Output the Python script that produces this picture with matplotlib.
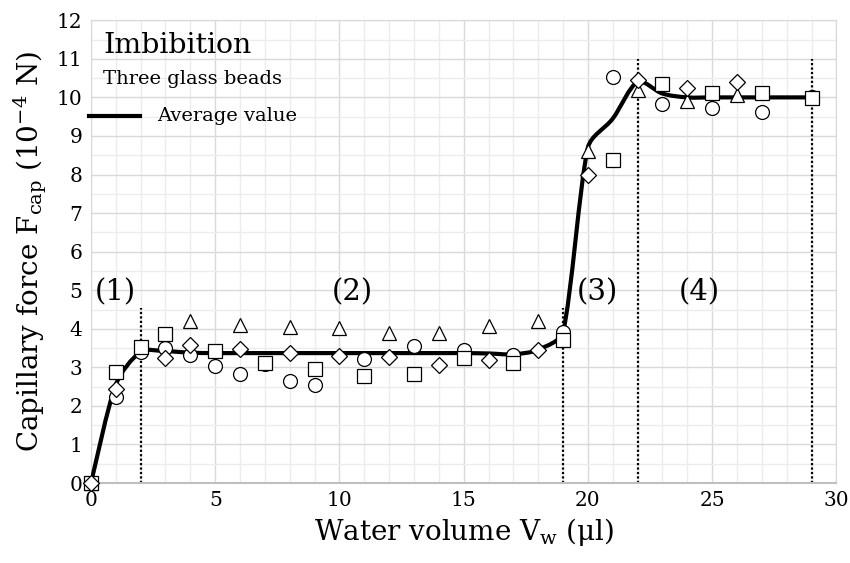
import numpy as np
import matplotlib
matplotlib.use("Agg")
import matplotlib.pyplot as plt
from matplotlib.path import Path
from matplotlib.patches import PathPatch
from matplotlib.ticker import MultipleLocator

plt.rcParams["font.family"] = ["DejaVu Serif"]
plt.rcParams["mathtext.default"] = "regular"

# -------------------------
# Data
# -------------------------
nan = np.nan
volume = list(range(30))

circles = [0, 2.24, 3.40, 3.51, 3.33, 3.03, 2.82, 3.08, 2.65, 2.55,
           nan, 3.21, nan, 3.55, nan, 3.46, nan, 3.32, nan, 3.92,
           nan, 10.54, nan, 9.84, nan, 9.72, nan, 9.62, nan, 10.0]
squares = [0, 2.88, 3.52, 3.86, nan, 3.43, nan, 3.12, nan, 2.97,
           nan, 2.78, nan, 2.84, nan, 3.23, nan, 3.12, nan, 3.72,
           nan, 8.37, nan, 10.34, nan, 10.12, nan, 10.12, nan, 9.98]
triangles = [0, nan, nan, nan, 4.19, nan, 4.09, nan, 4.05, nan,
             4.01, nan, 3.89, nan, 3.89, nan, 4.08, nan, 4.21, nan,
             8.62, nan, 10.18, nan, 9.90, nan, 10.07, nan, nan, 10.0]
diamonds = [0, 2.45, nan, 3.25, 3.57, nan, 3.47, nan, 3.38, nan,
            3.30, nan, 3.26, nan, 3.06, nan, 3.20, nan, 3.46, nan,
            8.00, nan, 10.44, nan, 10.24, nan, 10.41, nan, nan, nan]
average = [0, 2.55, 3.40, 3.42, 3.38, 3.37, 3.37, 3.37, 3.37, 3.37,
           3.37, 3.37, 3.37, 3.37, 3.37, 3.37, 3.36, 3.34, 3.46, 3.92,
           8.70, 9.45, 10.40, 10.10, 10.00, 10.00, 10.00, 10.00, 10.00, 10.00]

stage_bounds = [2, 19, 22, 29]
stage_tops = [4.55, 4.55, 11.0, 11.0]
stage_labels = ["(1)", "(2)", "(3)", "(4)"]
stage_label_x = [1.0, 10.5, 20.4, 24.5]


def smooth_path(xs, ys, sx, sy):
    # smoothed line: cubic Bezier (Catmull-Rom), arms shortened next to
    # much longer segments so the curve does not overshoot
    pts = np.column_stack([xs, ys]).astype(float)
    scale = np.array([sx, sy])
    n = len(pts)

    def dist(a, b):
        return np.hypot(*((a - b) * scale))

    verts = [pts[0]]
    codes = [Path.MOVETO]
    for i in range(n - 1):
        p0 = pts[max(i - 1, 0)]
        p1 = pts[i]
        p2 = pts[i + 1]
        p3 = pts[min(i + 2, n - 1)]
        d01, d12, d23 = dist(p0, p1), dist(p1, p2), dist(p2, p3)
        f1 = min(1 / 6, d12 / (d01 + d12) / 3) if d01 + d12 > 0 else 0
        f2 = min(1 / 6, d12 / (d12 + d23) / 3) if d12 + d23 > 0 else 0
        c1 = p1 + (p2 - p0) * f1
        c2 = p2 - (p3 - p1) * f2
        verts += [c1, c2, p2]
        codes += [Path.CURVE4] * 3
    return Path(verts, codes)


fig = plt.figure(figsize=(8.5, 5.63), dpi=100)
ax = fig.add_axes([0.107, 0.142, 0.877, 0.822])

ax.set_xlim(0, 30)
ax.set_ylim(0, 12)
ax.xaxis.set_major_locator(MultipleLocator(5))
ax.xaxis.set_minor_locator(MultipleLocator(1))
ax.yaxis.set_major_locator(MultipleLocator(1))
ax.yaxis.set_minor_locator(MultipleLocator(0.5))
ax.grid(True, which="major", color="#d9d9d9", linewidth=1.0, zorder=0)
ax.grid(True, which="minor", color="#ececec", linewidth=1.0, zorder=0)
ax.set_axisbelow(True)
ax.tick_params(which="both", length=0, labelsize=14.5, pad=6)
for side in ["left", "right", "top"]:
    ax.spines[side].set_color("#d9d9d9")
ax.spines["bottom"].set_color("#bfbfbf")
ax.spines["bottom"].set_linewidth(1.5)

# stage boundaries
for xb, top in zip(stage_bounds, stage_tops):
    ax.plot([xb, xb], [0, top], color="black", linestyle=(0, (1, 1)),
            linewidth=1.6, zorder=2)
for lab, xl in zip(stage_labels, stage_label_x):
    ax.text(xl, 4.95, lab, fontsize=21, ha="center", va="center")

# average line (pixel scale per data unit for the smoothing)
bbox = ax.get_window_extent()
px_x = bbox.width / 30
px_y = bbox.height / 12
patch = PathPatch(smooth_path(volume, average, px_x, px_y), facecolor="none",
                  edgecolor="black", linewidth=3, zorder=3,
                  capstyle="round", joinstyle="round")
ax.add_patch(patch)

# measurements
mk = dict(linestyle="none", markerfacecolor="white", markeredgecolor="black",
          markeredgewidth=0.9, zorder=4, clip_on=False)
ax.plot(volume, circles, marker="o", markersize=10, **mk)
ax.plot(volume, triangles, marker="^", markersize=10, **mk)
ax.plot(volume, squares, marker="s", markersize=9.5, **mk)
ax.plot(volume, diamonds, marker="D", markersize=8, **mk)

# annotations / legend
ax.text(0.016, 0.945, "Imbibition", transform=ax.transAxes, fontsize=20.5,
        va="center", ha="left")
ax.text(0.016, 0.873, "Three glass beads", transform=ax.transAxes,
        fontsize=14, va="center", ha="left")
ax.plot([-0.002, 0.066], [0.793, 0.793], transform=ax.transAxes,
        color="black", linewidth=3, clip_on=False, zorder=5)
ax.text(0.089, 0.793, "Average value", transform=ax.transAxes,
        fontsize=14, va="center", ha="left")

ax.set_xlabel("Water volume V$_w$ (\u03bcl)", fontsize=20, labelpad=4)
ax.set_ylabel("Capillary force F$_{cap}$ (10$^{-4}$ N)", fontsize=20,
              labelpad=6)

plt.savefig("out.png", dpi=100)
plt.close()
